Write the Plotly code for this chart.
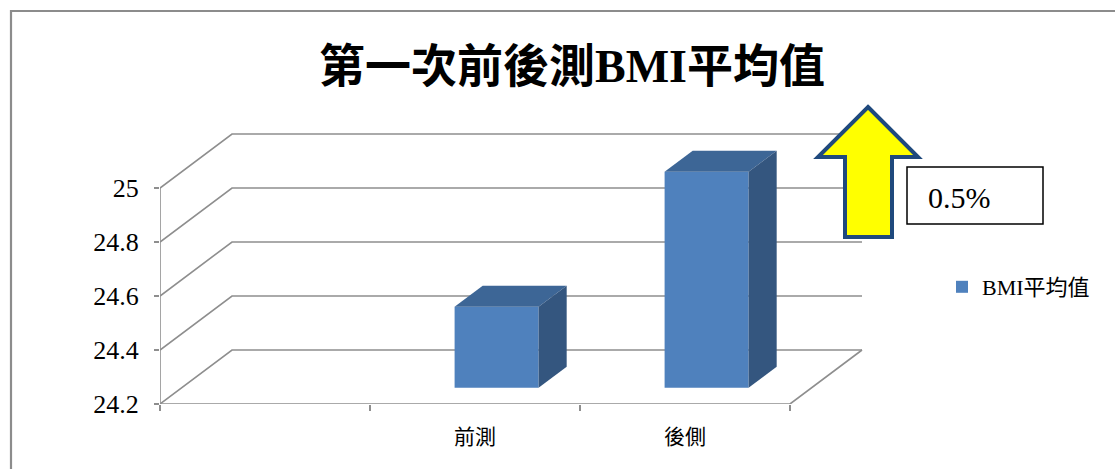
import plotly.graph_objects as go

# ---- data ----
categories = ["", "前測", "後側"]
bmi_mean = [None, 24.5, 25.0]
y_ticks = [24.2, 24.4, 24.6, 24.8, 25.0]
y_tick_text = ["24.2", "24.4", "24.6", "24.8", "25"]
series_name = "BMI平均值"
title_text = "第一次前後測BMI平均值"
change_text = "0.5%"

# ---- figure geometry ----
W, H = 1115, 469
Y_MIN, Y_MAX = 24.2, 25.3
X_MIN, X_MAX = -0.5, 2.9
# pseudo-3D depth vector (data units for full floor depth)
DX = 72 / 210
DY = 0.2
BAR_FRONT = 0.3      # depth where bar front face sits
BAR_DEPTH = 0.39     # depth of each bar
BAR_W = 0.4          # bar width in category units

FRONT_COLOR = "#4F81BD"
TOP_COLOR = "#3D6696"
SIDE_COLOR = "#34567F"
GRID = "#8E8E8E"
SERIF = "Liberation Serif, Noto Sans CJK TC"


def px(x):
    return x / W


def py(y):
    return 1 - y / H


fig = go.Figure()

# bars: front faces through the bar trace, top/side faces as filled polygons
xs, heights, bases = [], [], []
for i, v in enumerate(bmi_mean):
    if v is None:
        continue
    xs.append(i + BAR_FRONT * DX)
    bases.append(Y_MIN + BAR_FRONT * DY)
    heights.append(v - Y_MIN)

fig.add_trace(go.Bar(
    x=xs, y=heights, base=bases, width=BAR_W, name=series_name,
    marker=dict(color=FRONT_COLOR, line=dict(width=0)),
    showlegend=True,
))

for i, v in enumerate(bmi_mean):
    if v is None:
        continue
    xl = i - BAR_W / 2 + BAR_FRONT * DX
    xr = i + BAR_W / 2 + BAR_FRONT * DX
    yb = Y_MIN + BAR_FRONT * DY
    yt = v + BAR_FRONT * DY
    ox, oy = BAR_DEPTH * DX, BAR_DEPTH * DY
    fig.add_trace(go.Scatter(
        x=[xl, xr, xr + ox, xl + ox, xl], y=[yt, yt, yt + oy, yt + oy, yt],
        fill="toself", fillcolor=TOP_COLOR, mode="lines",
        line=dict(width=0, color=TOP_COLOR), showlegend=False, hoverinfo="skip",
    ))
    fig.add_trace(go.Scatter(
        x=[xr, xr + ox, xr + ox, xr, xr], y=[yb, yb + oy, yt + oy, yt, yb],
        fill="toself", fillcolor=SIDE_COLOR, mode="lines",
        line=dict(width=0, color=SIDE_COLOR), showlegend=False, hoverinfo="skip",
    ))

shapes = []
# walls: side-wall diagonals plus back-wall gridlines
for v in y_ticks:
    shapes.append(dict(
        type="path", xref="x", yref="y", layer="below",
        path=f"M {X_MIN},{v} L {X_MIN + DX},{v + DY} L {2.5 + DX},{v + DY}",
        line=dict(color=GRID, width=1.6),
    ))
# front axis line, floor front edge and floor right edge
shapes.append(dict(type="line", xref="x", yref="y", layer="below",
                   x0=X_MIN, y0=Y_MIN, x1=X_MIN, y1=y_ticks[-1],
                   line=dict(color=GRID, width=1.6)))
shapes.append(dict(type="path", xref="x", yref="y", layer="below",
                   path=f"M {X_MIN},{Y_MIN} L 2.5,{Y_MIN} L {2.5 + DX},{Y_MIN + DY}",
                   line=dict(color=GRID, width=1.6)))

# outer chart frame
shapes.append(dict(type="rect", xref="paper", yref="paper",
                   x0=px(11), y0=py(11), x1=px(1130), y1=py(490),
                   line=dict(color="#8C8C8C", width=2.2), fillcolor="rgba(0,0,0,0)"))

# upward arrow
arrow = [(868, 107), (918, 157), (892, 157), (892, 237), (845, 237), (845, 157), (818, 157)]
path = "M " + " L ".join(f"{px(a)},{py(b)}" for a, b in arrow) + " Z"
shapes.append(dict(type="path", xref="paper", yref="paper", path=path,
                   fillcolor="#FFFF00", line=dict(color="#1F497D", width=4)))

# change box
shapes.append(dict(type="rect", xref="paper", yref="paper",
                   x0=px(907), y0=py(167), x1=px(1043), y1=py(224),
                   line=dict(color="black", width=1.5), fillcolor="white"))

annotations = [
    dict(text=title_text, xref="paper", yref="paper", x=px(572), y=py(66),
         xanchor="center", yanchor="middle", showarrow=False,
         font=dict(family=SERIF, size=46, color="black", weight="bold")),
    dict(text=change_text, xref="paper", yref="paper", x=px(926), y=py(197),
         xanchor="left", yanchor="middle", showarrow=False,
         font=dict(family=SERIF, size=30, color="black")),
]

fig.update_layout(
    width=W, height=H,
    margin=dict(l=0, r=0, t=0, b=0, autoexpand=False),
    paper_bgcolor="white", plot_bgcolor="white",
    shapes=shapes, annotations=annotations,
    barmode="overlay",
    xaxis=dict(
        domain=[px(160), px(160 + (X_MAX - X_MIN) * 210)],
        range=[X_MIN, X_MAX], showgrid=False, zeroline=False, showline=False,
        tickmode="array", tickvals=[-0.5, 0.5, 1.5, 2.5],
        ticks="outside", ticklen=6, tickwidth=1.6, tickcolor=GRID,
        showticklabels=False, fixedrange=True, automargin=False,
    ),
    xaxis2=dict(
        overlaying="x", matches="x", side="bottom", anchor="y",
        showgrid=False, zeroline=False, showline=False,
        tickmode="array", tickvals=list(range(len(categories))), ticktext=categories,
        ticks="", ticklabelstandoff=18, automargin=False,
        tickfont=dict(family="Noto Sans CJK TC", size=21, color="black"),
    ),
    yaxis=dict(
        domain=[py(404), py(404 - (Y_MAX - Y_MIN) * 270)],
        range=[Y_MIN, Y_MAX], showgrid=False, zeroline=False, showline=False,
        tickmode="array", tickvals=y_ticks, ticktext=y_tick_text,
        ticks="outside", ticklen=5, tickwidth=1.6, tickcolor=GRID,
        ticklabelstandoff=10, automargin=False,
        tickfont=dict(family=SERIF, size=26, color="black"),
    ),
    legend=dict(
        x=px(942), y=py(287), xanchor="left", yanchor="middle",
        font=dict(family=SERIF, size=22, color="black"),
        bgcolor="rgba(0,0,0,0)", itemwidth=30,
    ),
)

# invisible carrier so the category-label axis is rendered
fig.add_trace(go.Scatter(x=[0, 2], y=[Y_MIN, Y_MIN], xaxis="x2", yaxis="y",
                         mode="markers", marker=dict(opacity=0), showlegend=False,
                         hoverinfo="skip"))

fig.write_html("out.html")
